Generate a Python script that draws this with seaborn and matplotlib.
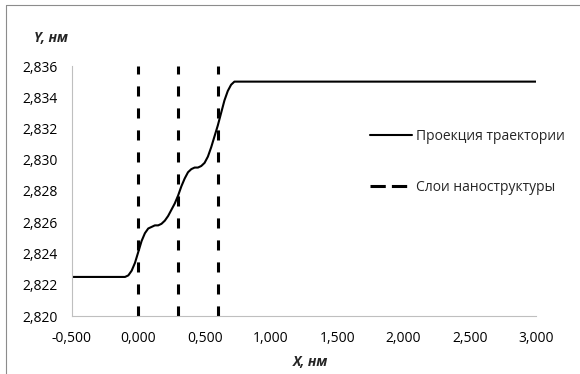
# third-party
import matplotlib
matplotlib.use('Agg')
import matplotlib.pyplot as plt
from matplotlib.lines import Line2D
from matplotlib.ticker import FuncFormatter, MultipleLocator
import pandas as pd
import seaborn as sns

# curve
x_nm = [
    -0.5, -0.3, -0.2, -0.15, -0.1, -0.075, -0.05, -0.025, 0.0, 0.025,
    0.05, 0.075, 0.1, 0.125, 0.15, 0.175, 0.2, 0.225, 0.25, 0.275,
    0.3, 0.325, 0.35, 0.375, 0.4, 0.425, 0.45, 0.475, 0.5, 0.525,
    0.55, 0.575, 0.6, 0.625, 0.65, 0.675, 0.7, 0.725, 0.75, 0.8,
    1.0, 2.0, 3.0,
]
y_nm = [
    2.8225, 2.8225, 2.8225, 2.8225, 2.8225, 2.8226, 2.8229, 2.8234, 2.8241, 2.8248,
    2.8253, 2.8256, 2.8257, 2.8258, 2.8258, 2.8259, 2.8261, 2.8264, 2.8268, 2.8272,
    2.8277, 2.8283, 2.8288, 2.8292, 2.8294, 2.8295, 2.8295, 2.8296, 2.8298, 2.8302,
    2.8308, 2.8315, 2.8322, 2.8330, 2.8338, 2.8344, 2.8348, 2.8350, 2.8350, 2.8350,
    2.8350, 2.8350, 2.8350,
]
layer_x = [0.0, 0.3, 0.6]
y_range = [2.820, 2.836]

labels = ['Проекция траектории', 'Слои наноструктуры']

df = pd.DataFrame({'x': x_nm, 'y': y_nm})

sns.set_style('white')
plt.rcParams['font.family'] = ['Open Sans', 'DejaVu Sans']
fs = 10

fig = plt.figure(figsize=(5.8, 3.74), dpi=100)
ax = fig.add_axes([72 / 580, 1 - 316 / 374, 464 / 580, 250 / 374])

sns.lineplot(data=df, x='x', y='y', color='black', linewidth=1.5,
             sort=False, ax=ax)
ax.vlines(layer_x, y_range[0], y_range[1], colors='black',
          linewidth=2.2, linestyles=(0, (3.3, 3.9)))

ax.set_xlim(-0.5, 3.0)
ax.set_ylim(y_range[0], y_range[1])
ax.xaxis.set_major_locator(MultipleLocator(0.5))
ax.yaxis.set_major_locator(MultipleLocator(0.002))
comma = FuncFormatter(lambda v, pos: '{:.3f}'.format(v).replace('.', ','))
ax.xaxis.set_major_formatter(comma)
ax.yaxis.set_major_formatter(comma)

for side in ['top', 'right']:
    ax.spines[side].set_visible(False)
for side in ['left', 'bottom']:
    ax.spines[side].set_color('#bfbfbf')
    ax.spines[side].set_linewidth(0.8)
ax.tick_params(axis='both', direction='out', length=3.5, width=0.8,
               color='#bfbfbf', labelcolor='black', labelsize=fs)
ax.tick_params(axis='y', pad=7)
ax.tick_params(axis='x', pad=7)

ax.set_xlabel('X, нм', fontweight='bold', fontstyle='italic', fontsize=fs,
              va='center')
ax.set_ylabel('Y, нм', fontweight='bold', fontstyle='italic', fontsize=fs,
              rotation=0, ha='center', va='center')
ax.xaxis.set_label_coords((310.5 - 72) / 464, (316 - 362) / 250)
ax.yaxis.set_label_coords((50.5 - 72) / 464, (316 - 38) / 250)

handles = [
    Line2D([], [], color='black', linewidth=1.5),
    Line2D([], [], color='black', linewidth=2.2, linestyle=(0, (5.0, 2.0))),
]
ax.legend(handles, labels, loc='upper left', frameon=False,
          bbox_to_anchor=(370 / 580, 1 - 129 / 374),
          bbox_transform=fig.transFigure, borderpad=0, borderaxespad=0,
          handlelength=3.0, handletextpad=0.3, labelspacing=2.6,
          fontsize=fs)

# frame around the picture (left and top edges)
fig.add_artist(Line2D([6 / 580, 6 / 580], [0, 1 - 5 / 374],
                      color='#8c8c8c', linewidth=0.8))
fig.add_artist(Line2D([6 / 580, 1], [1 - 5 / 374, 1 - 5 / 374],
                      color='#8c8c8c', linewidth=0.8))

plt.savefig('out.png', dpi=100)
